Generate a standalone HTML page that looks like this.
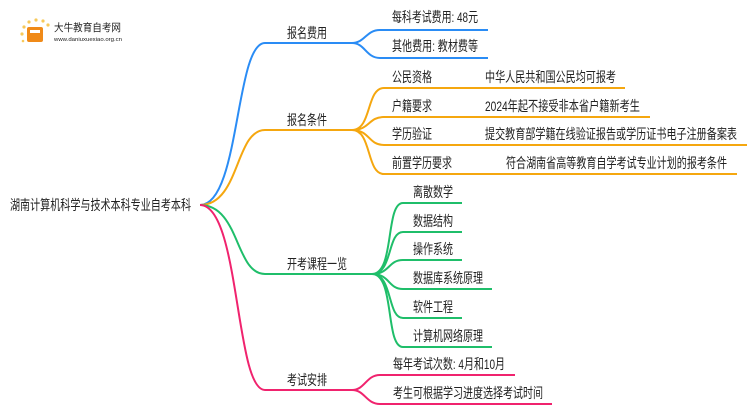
<!DOCTYPE html>
<html><head><meta charset="utf-8"><style>
body{margin:0;background:#fff;}
svg text{font-family:"Liberation Sans","Noto Sans CJK SC",sans-serif;fill:#222;}
</style></head><body>
<svg width="750" height="410" viewBox="0 0 750 410" xmlns="http://www.w3.org/2000/svg">
<g fill="none" stroke-width="2">
<path d="M200,205 C240,205 235,43 265,43 L352,43" stroke="#2a8cf5"/>
<path d="M352,43 C365,43 366,30 380,30 L488,30 M352,43 C365,43 366,58 380,58 L488,58" stroke="#2a8cf5"/>
<path d="M200,205 C240,205 235,130 265,130 L352,130" stroke="#f5a70f"/>
<path d="M352,130 C372,130 366,88 384,88 L625,88 M352,130 C370,130 368,117 384,117 L650,117 M352,130 C370,130 368,145 384,145 L747,145 M352,130 C372,130 366,174 384,174 L737,174" stroke="#f5a70f"/>
<path d="M200,205 C240,205 235,274 265,274 L372,274" stroke="#1fbe6a"/>
<path d="M372,274 C395,274 385,203 403,203 L462,203 M372,274 C393,274 387,232 403,232 L462,232 M372,274 C390,274 388,260 403,260 L462,260 M372,274 C390,274 388,289 403,289 L492,289 M372,274 C393,274 387,318 403,318 L462,318 M372,274 C395,274 385,347 403,347 L492,347" stroke="#1fbe6a"/>
<path d="M200,205 C240,205 235,390 265,390 L352,390" stroke="#f0236e"/>
<path d="M352,390 C365,390 366,375 380,375 L515,375 M352,390 C365,390 366,404 380,404 L552,404" stroke="#f0236e"/>
</g>
<g font-size="14">
<text x="10" y="210" textLength="181" lengthAdjust="spacingAndGlyphs">湖南计算机科学与技术本科专业自考本科</text>
<text x="287" y="38" textLength="40" lengthAdjust="spacingAndGlyphs">报名费用</text>
<text x="287" y="125" textLength="40" lengthAdjust="spacingAndGlyphs">报名条件</text>
<text x="287" y="269" textLength="60" lengthAdjust="spacingAndGlyphs">开考课程一览</text>
<text x="287" y="385" textLength="40" lengthAdjust="spacingAndGlyphs">考试安排</text>
<text x="392" y="22" textLength="86" lengthAdjust="spacingAndGlyphs">每科考试费用: 48元</text>
<text x="392" y="51" textLength="86" lengthAdjust="spacingAndGlyphs">其他费用: 教材费等</text>
<text x="392" y="82" textLength="40" lengthAdjust="spacingAndGlyphs">公民资格</text><text x="485" y="82" textLength="131" lengthAdjust="spacingAndGlyphs">中华人民共和国公民均可报考</text>
<text x="392" y="111" textLength="40" lengthAdjust="spacingAndGlyphs">户籍要求</text><text x="485" y="111" textLength="155" lengthAdjust="spacingAndGlyphs">2024年起不接受非本省户籍新考生</text>
<text x="392" y="139" textLength="40" lengthAdjust="spacingAndGlyphs">学历验证</text><text x="485" y="139" textLength="252" lengthAdjust="spacingAndGlyphs">提交教育部学籍在线验证报告或学历证书电子注册备案表</text>
<text x="392" y="168" textLength="60" lengthAdjust="spacingAndGlyphs">前置学历要求</text><text x="506" y="168" textLength="221" lengthAdjust="spacingAndGlyphs">符合湖南省高等教育自学考试专业计划的报考条件</text>
<text x="413" y="197" textLength="40" lengthAdjust="spacingAndGlyphs">离散数学</text>
<text x="413" y="226" textLength="40" lengthAdjust="spacingAndGlyphs">数据结构</text>
<text x="413" y="254" textLength="40" lengthAdjust="spacingAndGlyphs">操作系统</text>
<text x="413" y="283" textLength="70" lengthAdjust="spacingAndGlyphs">数据库系统原理</text>
<text x="413" y="312" textLength="40" lengthAdjust="spacingAndGlyphs">软件工程</text>
<text x="413" y="341" textLength="70" lengthAdjust="spacingAndGlyphs">计算机网络原理</text>
<text x="393" y="369" textLength="112" lengthAdjust="spacingAndGlyphs">每年考试次数: 4月和10月</text>
<text x="393" y="398" textLength="150" lengthAdjust="spacingAndGlyphs">考生可根据学习进度选择考试时间</text>
</g>
<g>
<circle cx="24" cy="27" r="1.6" fill="#f7c95a"/><circle cx="29" cy="22" r="1.6" fill="#f7c95a"/><circle cx="36" cy="20" r="1.6" fill="#f7c95a"/><circle cx="43" cy="21" r="1.6" fill="#f7c95a"/><circle cx="48" cy="25" r="1.6" fill="#f7c95a"/><circle cx="22" cy="34" r="1.6" fill="#f7c95a"/><circle cx="23" cy="41" r="1.3" fill="#f7c95a"/>
<rect x="27" y="27" width="16" height="15" rx="2" fill="#f08a18"/>
<rect x="30" y="30" width="10" height="3" fill="#fff"/>
<text x="54" y="31" font-size="10.5" fill="#333" textLength="67" lengthAdjust="spacingAndGlyphs">大牛教育自考网</text>
<text x="54" y="41" font-size="5.5" fill="#666" textLength="68" lengthAdjust="spacingAndGlyphs">www.daniuxuexiao.org.cn</text>
</g>
</svg>
</body></html>
